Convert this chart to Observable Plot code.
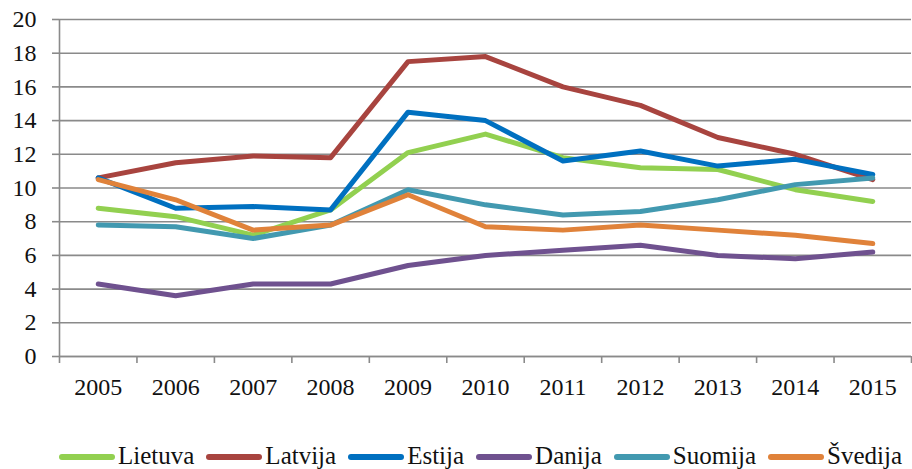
<!DOCTYPE html>
<html>
<head>
<meta charset="utf-8">
<script src="https://cdn.jsdelivr.net/npm/d3@7"></script>
<script src="https://cdn.jsdelivr.net/npm/@observablehq/plot@0.6"></script>
<style>
  html, body { margin: 0; padding: 0; background: #fff; }
  #wrap { width: 912px; height: 469px; overflow: hidden; font-family: 'Liberation Serif', 'DejaVu Serif', serif; }
  #wrap svg { display: block; }
  .legend { display: flex; align-items: center; padding-left: 59px; margin-top: 33px; height: 25px; font-size: 25px; line-height: 25px; color: #111; white-space: nowrap; }
  .item { display: flex; align-items: center; margin-right: 12px; }
  .sw { display: inline-block; width: 56px; height: 6px; border-radius: 3px; margin-right: 3px; position: relative; top: 1px; }
</style>
</head>
<body>
<div id="wrap"></div>
<script>
const years = [2005, 2006, 2007, 2008, 2009, 2010, 2011, 2012, 2013, 2014, 2015];
const names = ["Lietuva", "Latvija", "Estija", "Danija", "Suomija", "Švedija"];
const colors = ["#92D050", "#A8443F", "#0070C0", "#6F518F", "#4299B0", "#E0823A"];
const lietuva = [8.8, 8.3, 7.2, 8.7, 12.1, 13.2, 11.8, 11.2, 11.1, 9.9, 9.2];
const latvija = [10.6, 11.5, 11.9, 11.8, 17.5, 17.8, 16.0, 14.9, 13.0, 12.0, 10.5];
const estija = [10.6, 8.8, 8.9, 8.7, 14.5, 14.0, 11.6, 12.2, 11.3, 11.7, 10.8];
const danija = [4.3, 3.6, 4.3, 4.3, 5.4, 6.0, 6.3, 6.6, 6.0, 5.8, 6.2];
const suomija = [7.8, 7.7, 7.0, 7.8, 9.9, 9.0, 8.4, 8.6, 9.3, 10.2, 10.6];
const svedija = [10.5, 9.3, 7.5, 7.8, 9.6, 7.7, 7.5, 7.8, 7.5, 7.2, 6.7];
const yTicks = [0, 2, 4, 6, 8, 10, 12, 14, 16, 18, 20];

const seriesValues = [lietuva, latvija, estija, danija, suomija, svedija];
const data = names.flatMap((n, k) => years.map((yr, i) => ({year: yr, value: seriesValues[k][i], name: n})));
const boundaries = years.map(y => y - 0.5).concat([years[years.length - 1] + 0.5]);
const gray = "#8a8a8a";

const chart = Plot.plot({
  width: 912,
  height: 410,
  marginTop: 19,
  marginBottom: 54,
  marginLeft: 59,
  marginRight: 1,
  style: {fontFamily: "'Liberation Serif', 'DejaVu Serif', serif", fontSize: "24px", color: "#111", background: "#fff"},
  x: {domain: [boundaries[0], boundaries[boundaries.length - 1]]},
  y: {domain: [0, 20]},
  color: {domain: names, range: colors},
  marks: [
    Plot.gridY({ticks: yTicks, stroke: gray, strokeOpacity: 1, strokeWidth: 1.6}),
    Plot.axisY({ticks: yTicks, tickSize: 7, tickPadding: 16, stroke: gray, strokeWidth: 1.6, label: null, fill: "#111"}),
    Plot.axisX({ticks: years, tickSize: 0, tickPadding: 21, tickFormat: d => String(d), label: null, fill: "#111"}),
    Plot.axisX({ticks: boundaries, tickSize: 7, tickFormat: () => "", stroke: gray, strokeWidth: 1.6, label: null}),
    Plot.ruleY([0], {stroke: gray, strokeWidth: 1.6}),
    Plot.ruleX([boundaries[0]], {stroke: gray, strokeWidth: 1.6}),
    Plot.line(data, {x: "year", y: "value", z: "name", stroke: "name", strokeWidth: 5, strokeLinejoin: "round", strokeLinecap: "round"})
  ]
});

const wrap = document.getElementById("wrap");
wrap.appendChild(chart);
const legend = document.createElement("div");
legend.className = "legend";
names.forEach((n, i) => {
  const it = document.createElement("div");
  it.className = "item";
  const sw = document.createElement("span");
  sw.className = "sw";
  sw.style.background = colors[i];
  const t = document.createElement("span");
  t.textContent = n;
  it.appendChild(sw);
  it.appendChild(t);
  legend.appendChild(it);
});
wrap.appendChild(legend);
</script>
</body>
</html>
